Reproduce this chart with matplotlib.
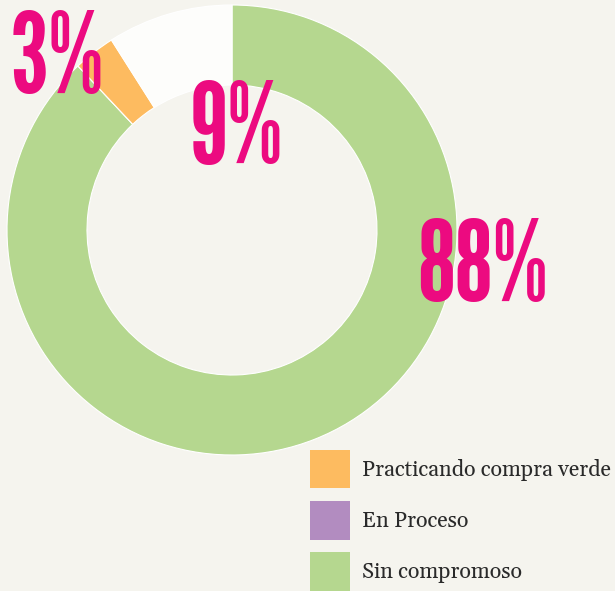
import matplotlib
matplotlib.use("Agg")
import matplotlib.pyplot as plt
from matplotlib.patches import Patch

# data, clockwise from 12 o'clock
labels = ['Sin compromoso', 'En Proceso', 'Practicando compra verde', '']
values = [88, 0, 3, 9]
pct_text = ['88%', '', '3%', '9%']

bg = '#f5f4ee'
myg = '#b5d78f'
myv = '#b28cc0'
myo = '#fdbb60'
myw = '#fdfdfb'
mag = '#ec0a80'
colors = [myg, myv, myo, myw]

fig = plt.figure(figsize=(6.15, 5.91), dpi=100)
fig.patch.set_facecolor(bg)
ax = fig.add_axes([0, 0, 1, 1])
ax.set_facecolor(bg)

# pixel-like coords, y measured upward
cx, cy, r = 232, 591 - 230, 225
ax.pie(values, colors=colors, startangle=90, counterclock=False,
       center=(cx, cy), radius=r,
       wedgeprops=dict(width=80, edgecolor='white', linewidth=0.8))
ax.set_xlim(0, 615)
ax.set_ylim(0, 591)
ax.set_aspect('equal')
ax.axis('off')

# percent labels
pos = {'88%': (417, 591 - 300), '3%': (10, 591 - 92), '9%': (190, 591 - 162)}
for t in pct_text:
    if t:
        ax.text(pos[t][0], pos[t][1], t, color=mag, fontsize=80,
                family=['League Gothic', 'DejaVu Sans'],
                ha='left', va='baseline')

handles = [Patch(facecolor=myo, edgecolor='none'),
           Patch(facecolor=myv, edgecolor='none'),
           Patch(facecolor=myg, edgecolor='none')]
leg_labels = [labels[2], labels[1], labels[0]]
lgd = fig.legend(handles, leg_labels, loc='upper left',
                 bbox_to_anchor=(310 / 615, 1 - 450 / 591),
                 frameon=False, borderpad=0, borderaxespad=0,
                 handlelength=1.85, handleheight=2.36, handletextpad=0.55,
                 labelspacing=0.6, prop={'family': 'Gelasio', 'size': 15.5})
for t in lgd.get_texts():
    t.set_color('#2a2a2a')

fig.savefig("out.png", dpi=100, facecolor=bg)
